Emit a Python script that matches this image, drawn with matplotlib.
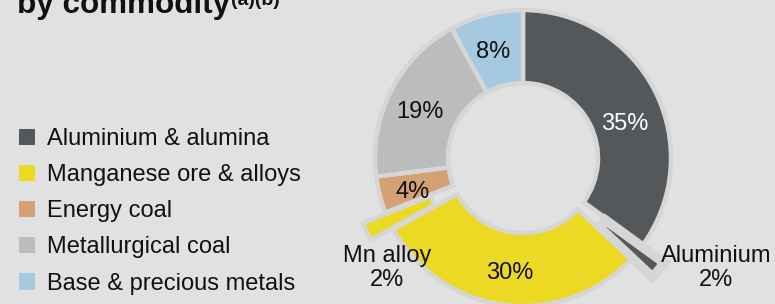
import matplotlib
matplotlib.use("Agg")
import matplotlib.pyplot as plt
from matplotlib.patches import Patch

plt.rcParams['font.family'] = ['Liberation Sans', 'DejaVu Sans']

# ---- data ----
segments = ["Aluminium & alumina", "Aluminium", "Manganese ore & alloys", "Mn alloy",
            "Energy coal", "Metallurgical coal", "Base & precious metals"]
shares = [35, 2, 30, 2, 4, 19, 8]
slice_labels = ["35%", "Aluminium\n2%", "30%", "Mn alloy\n2%", "4%", "19%", "8%"]
legend_items = ["Aluminium & alumina", "Manganese ore & alloys", "Energy coal",
                "Metallurgical coal", "Base & precious metals"]

# ---- style ----
colors = ["#54585a", "#54585a", "#ecd924", "#ecd924", "#d3a174", "#bbbcbd", "#a6c9e2"]
legend_colors = ["#54585a", "#ecd924", "#d3a174", "#bbbcbd", "#a6c9e2"]
explode = [0, 28, 0, 25, 0, 0, 0]          # offsets in pixels (data units)
edge_lw = [3.2, 7.0, 3.2, 3.2, 3.2, 3.2, 3.2]
label_colors = ["white", "#111111", "#111111", "#111111", "#111111", "#111111", "#111111"]
label_pos = [(625, 180), (716, 36), (510, 31), (387, 36), (413, 112), (420, 192), (493, 252)]
BG = "#e1e1e1"
EDGE = "#d6d6d6"

W, H = 775, 304
fig = plt.figure(figsize=(W / 100, H / 100), dpi=100)
fig.patch.set_facecolor(BG)
ax = fig.add_axes([0, 0, 1, 1])
ax.set_facecolor(BG)

wedges, _ = ax.pie(shares, colors=colors, startangle=90, counterclock=False,
                   radius=148, center=(523, 146), explode=explode,
                   wedgeprops=dict(width=73, edgecolor=EDGE, linewidth=3.2))
for w, lw in zip(wedges, edge_lw):
    w.set_linewidth(lw)

ax.set_xlim(0, W)
ax.set_ylim(0, H)
ax.set_aspect('equal')
ax.axis('off')

for txt, (x, y), c in zip(slice_labels, label_pos, label_colors):
    ax.text(x, y, txt, ha='center', va='center', fontsize=17, color=c,
            linespacing=1.1)

handles = [Patch(facecolor=c, edgecolor='none') for c in legend_colors]
leg = fig.legend(handles, legend_items, loc='upper left',
                 bbox_to_anchor=(19 / W, 1 - 128 / H), frameon=False,
                 fontsize=17, handlelength=0.68, handleheight=0.68,
                 handletextpad=0.5, labelspacing=0.6, borderaxespad=0,
                 borderpad=0)
for t in leg.get_texts():
    t.set_color("#111111")

title = fig.text(17 / W, 1 - 12.5 / H, "by commodity", fontsize=22.6,
                 fontweight='bold', ha='left', va='baseline', color='#111111')
fig.canvas.draw()
bb = title.get_window_extent()
fig.text((bb.x1 + 1) / W, 1 - 5 / H, "(a)(b)", fontsize=14, fontweight='bold',
         ha='left', va='baseline', color='#111111')

fig.savefig("out.png", dpi=100, facecolor=BG)
